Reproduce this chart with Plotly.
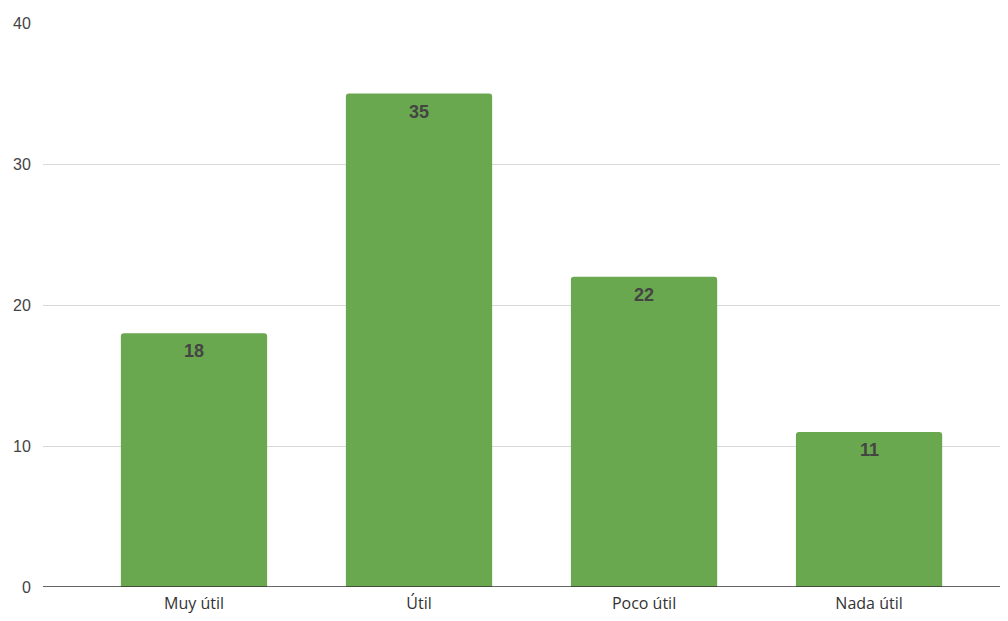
import plotly.graph_objects as go

categories = ["Muy útil", "Útil", "Poco útil", "Nada útil"]
values = [18, 35, 22, 11]
y_ticks = [0, 10, 20, 30, 40]

fig = go.Figure()
fig.add_trace(go.Bar(
    x=categories, y=values, width=0.65,
    marker=dict(color="#6aa84f", line=dict(width=0), cornerradius=3),
    hoverinfo="skip",
))
for c, v in zip(categories, values):
    fig.add_annotation(x=c, y=v, text=f"<b>{v}</b>", showarrow=False,
                       yanchor="top", yshift=-6,
                       font=dict(family="Liberation Sans, Arial", size=18, color="#444444"))

fig.update_layout(
    width=1008, height=621,
    margin=dict(l=35, r=0, t=15, b=42),
    paper_bgcolor="white", plot_bgcolor="white",
    showlegend=False,
    bargap=0.35,
)
fig.update_xaxes(range=[-0.671, 3.653], showgrid=False, showline=False, zeroline=False,
                 automargin=False,
                 tickfont=dict(family="Open Sans, Liberation Sans", size=16, color="#333333"),
                 ticks="outside", ticklen=2, tickcolor="rgba(0,0,0,0)")
fig.update_yaxes(range=[0, 40], tickvals=y_ticks, showgrid=True, gridcolor="#d9d9d9", gridwidth=1,
                 zeroline=False, showline=False, automargin=False,
                 tickfont=dict(family="Liberation Sans, Arial", size=16, color="#444444"),
                 ticks="outside", ticklen=8, tickcolor="rgba(0,0,0,0)")
fig.add_shape(type="line", xref="paper", yref="y", x0=0, x1=1, y0=0, y1=0,
              line=dict(color="#333333", width=1.3))

fig.write_html("out.html")
